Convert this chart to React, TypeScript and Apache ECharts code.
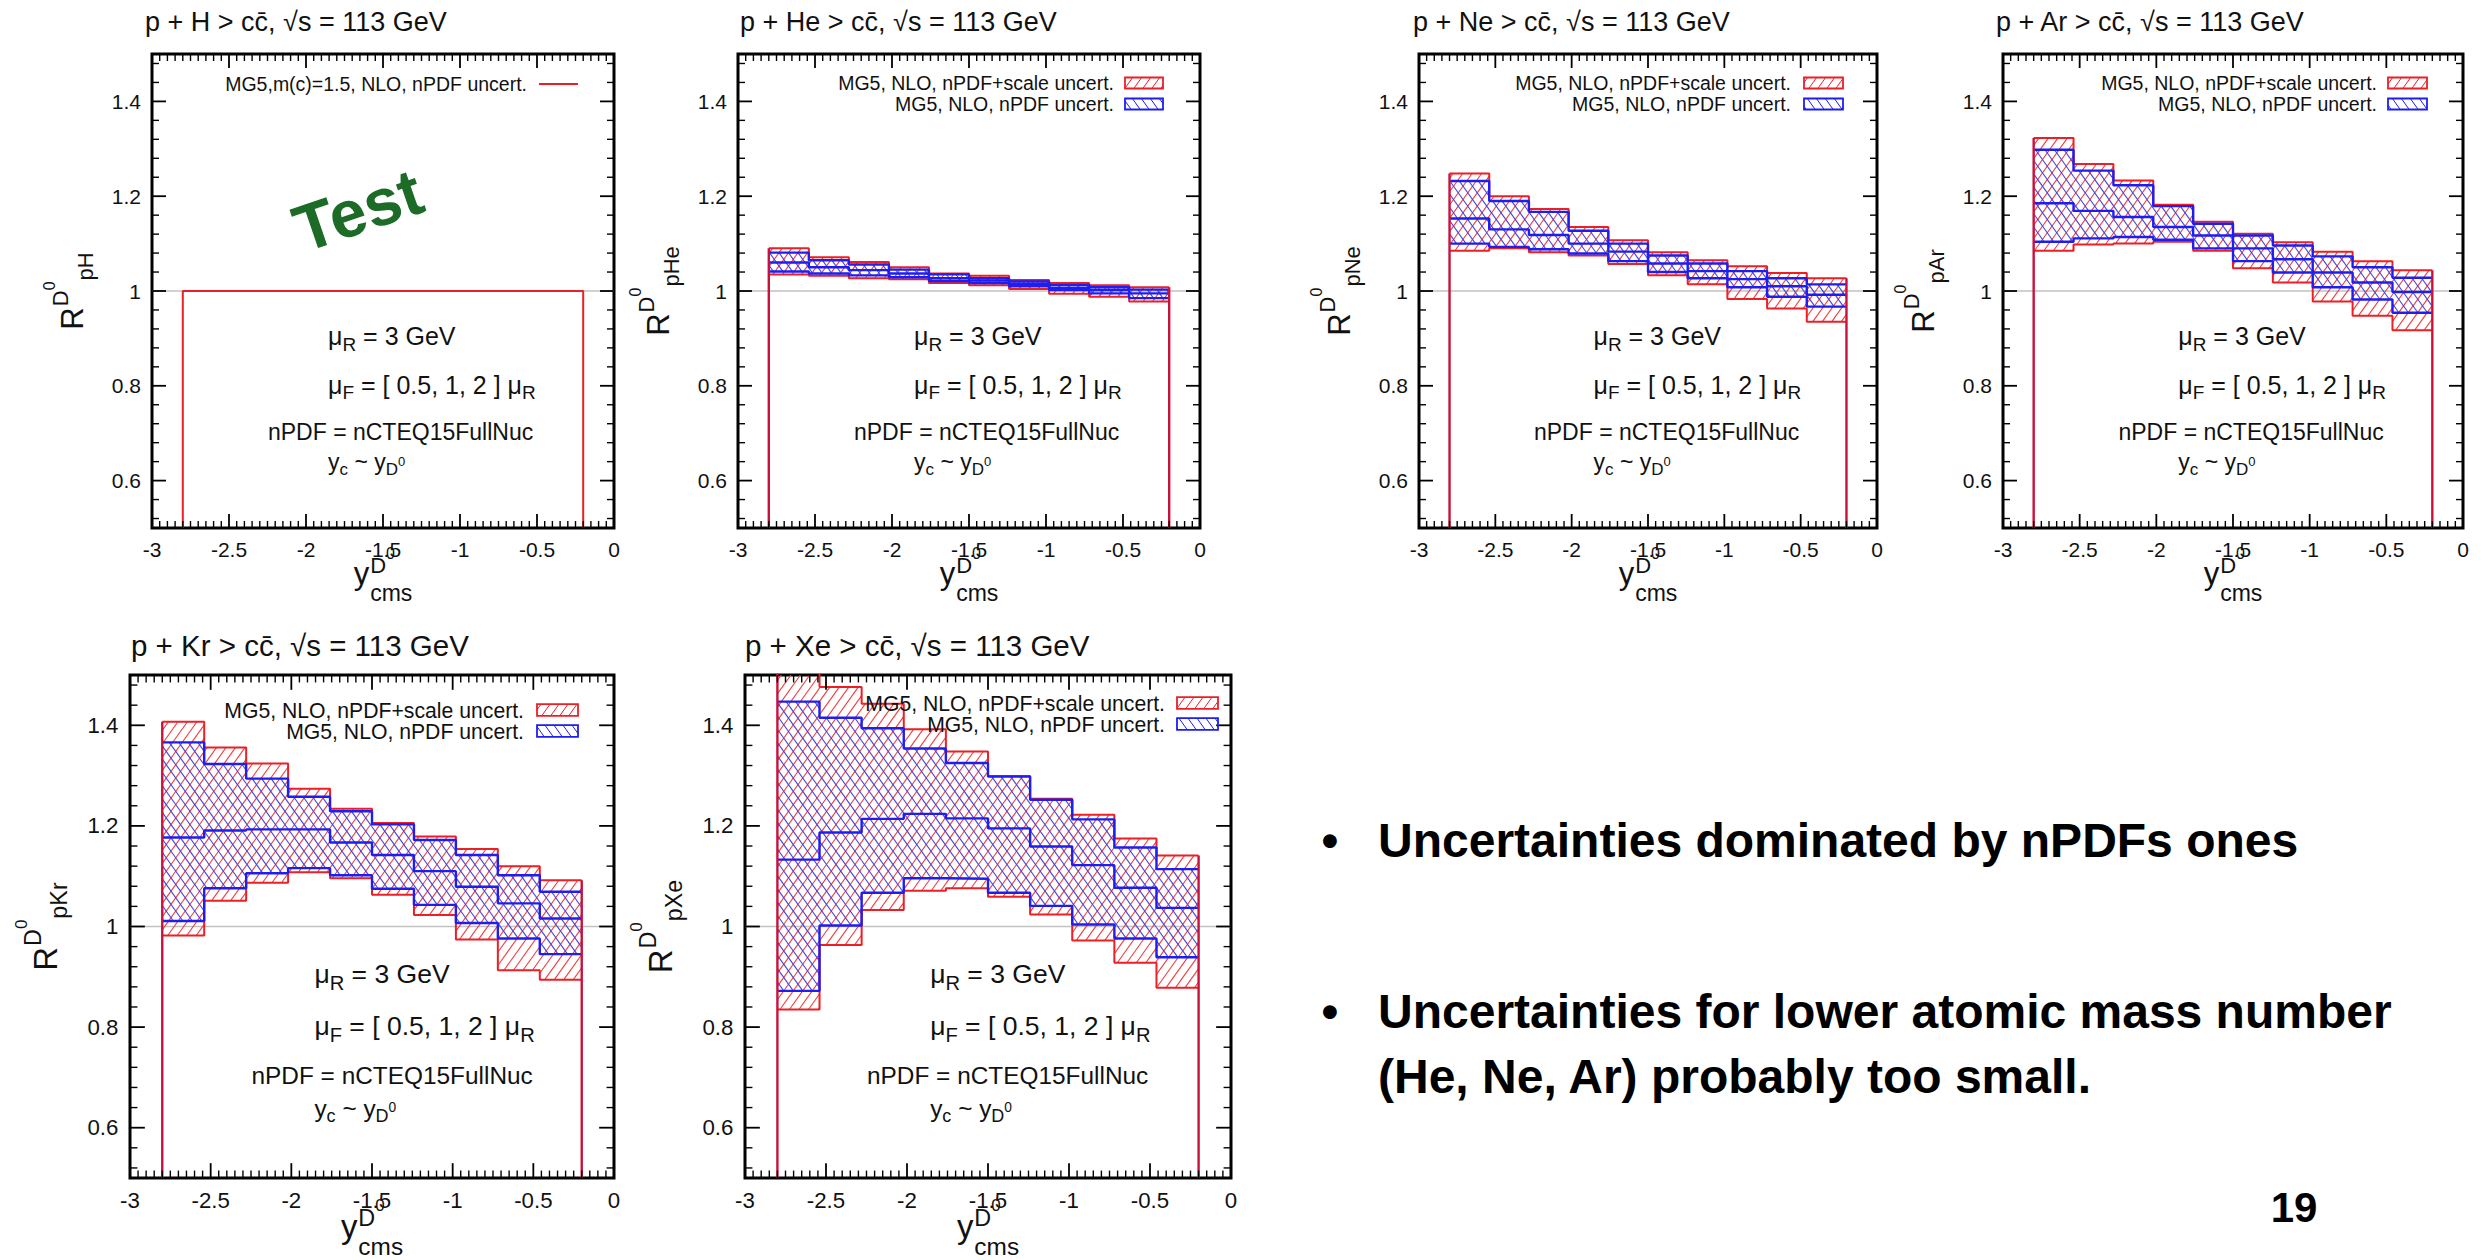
import React, { useEffect, useRef } from "react";
import * as echarts from "echarts";

const W = 2486;
const H = 1260;
const FONT = '"Liberation Sans", Arial, Helvetica, sans-serif';

// ---------------- data ----------------
const BIN_EDGES = [-2.8, -2.54, -2.28, -2.02, -1.76, -1.5, -1.24, -0.98, -0.72, -0.46, -0.2];
const X_MIN = -3;
const X_MAX = 0;
const X_TICK_STEP = 0.5;
const X_MINOR_SPLIT = 10;
const Y_MIN = 0.5;
const Y_MAX = 1.5;
const Y_MAJOR_TICKS = [0.6, 0.8, 1, 1.2, 1.4];
const Y_MINOR_TICKS = [0.52, 0.56, 0.64, 0.68, 0.72, 0.76, 0.84, 0.88, 0.92, 0.96, 1.04, 1.08, 1.12, 1.16, 1.24, 1.28, 1.32, 1.36, 1.44, 1.48];
const REF_LINE = 1;

const H_NPDF = [1, 1, 1, 1, 1, 1, 1, 1, 1, 1];

const HE_SCALE_UP = [1.09, 1.071, 1.061, 1.05, 1.037, 1.032, 1.023, 1.017, 1.012, 1.008];
const HE_SCALE_DOWN = [1.035, 1.032, 1.027, 1.025, 1.017, 1.012, 1.004, 0.994, 0.988, 0.978];
const HE_NPDF_UP = [1.081, 1.065, 1.056, 1.045, 1.035, 1.027, 1.02, 1.013, 1.008, 1.003];
const HE_NPDF_CENTRAL = [1.06, 1.05, 1.044, 1.037, 1.027, 1.022, 1.015, 1.007, 1.002, 0.995];
const HE_NPDF_DOWN = [1.041, 1.037, 1.033, 1.029, 1.021, 1.017, 1.01, 1.002, 0.995, 0.985];

const NE_SCALE_UP = [1.248, 1.2, 1.173, 1.135, 1.107, 1.082, 1.065, 1.052, 1.038, 1.027];
const NE_SCALE_DOWN = [1.085, 1.09, 1.082, 1.075, 1.057, 1.033, 1.014, 0.983, 0.963, 0.935];
const NE_NPDF_UP = [1.232, 1.19, 1.167, 1.127, 1.1, 1.075, 1.058, 1.042, 1.027, 1.014];
const NE_NPDF_CENTRAL = [1.153, 1.13, 1.118, 1.1, 1.083, 1.058, 1.042, 1.025, 1.01, 0.992];
const NE_NPDF_DOWN = [1.1, 1.093, 1.088, 1.079, 1.063, 1.04, 1.027, 1.008, 0.988, 0.967];

const AR_SCALE_UP = [1.323, 1.268, 1.233, 1.182, 1.146, 1.121, 1.103, 1.083, 1.063, 1.044];
const AR_SCALE_DOWN = [1.085, 1.098, 1.1, 1.104, 1.085, 1.048, 1.018, 0.978, 0.948, 0.917];
const AR_NPDF_UP = [1.298, 1.254, 1.223, 1.179, 1.142, 1.117, 1.096, 1.073, 1.05, 1.028];
const AR_NPDF_CENTRAL = [1.185, 1.169, 1.156, 1.135, 1.117, 1.09, 1.067, 1.039, 1.018, 0.998];
const AR_NPDF_DOWN = [1.104, 1.111, 1.114, 1.108, 1.09, 1.063, 1.039, 1.008, 0.982, 0.954];

const KR_SCALE_UP = [1.407, 1.356, 1.324, 1.274, 1.234, 1.206, 1.179, 1.154, 1.12, 1.092];
const KR_SCALE_DOWN = [0.982, 1.051, 1.087, 1.108, 1.096, 1.063, 1.023, 0.974, 0.913, 0.894];
const KR_NPDF_UP = [1.366, 1.323, 1.294, 1.258, 1.229, 1.203, 1.172, 1.142, 1.102, 1.069];
const KR_NPDF_CENTRAL = [1.177, 1.191, 1.193, 1.193, 1.167, 1.142, 1.11, 1.079, 1.046, 1.016];
const KR_NPDF_DOWN = [1.011, 1.076, 1.106, 1.116, 1.102, 1.075, 1.043, 1.007, 0.976, 0.945];

const XE_SCALE_UP = [1.53, 1.476, 1.443, 1.392, 1.348, 1.299, 1.254, 1.222, 1.175, 1.141];
const XE_SCALE_DOWN = [0.835, 0.963, 1.033, 1.071, 1.076, 1.059, 1.024, 0.972, 0.928, 0.878];
const XE_NPDF_UP = [1.447, 1.415, 1.394, 1.354, 1.325, 1.298, 1.252, 1.213, 1.157, 1.114];
const XE_NPDF_CENTRAL = [1.133, 1.187, 1.214, 1.224, 1.215, 1.195, 1.159, 1.122, 1.077, 1.037];
const XE_NPDF_DOWN = [0.872, 1.002, 1.067, 1.096, 1.095, 1.067, 1.041, 1.004, 0.976, 0.939];

const NUCLEI = ["H", "He", "Ne", "Ar", "Kr", "Xe"];
const BANDS: any = {
  He: { up: HE_SCALE_UP, down: HE_SCALE_DOWN, nUp: HE_NPDF_UP, nCen: HE_NPDF_CENTRAL, nDown: HE_NPDF_DOWN },
  Ne: { up: NE_SCALE_UP, down: NE_SCALE_DOWN, nUp: NE_NPDF_UP, nCen: NE_NPDF_CENTRAL, nDown: NE_NPDF_DOWN },
  Ar: { up: AR_SCALE_UP, down: AR_SCALE_DOWN, nUp: AR_NPDF_UP, nCen: AR_NPDF_CENTRAL, nDown: AR_NPDF_DOWN },
  Kr: { up: KR_SCALE_UP, down: KR_SCALE_DOWN, nUp: KR_NPDF_UP, nCen: KR_NPDF_CENTRAL, nDown: KR_NPDF_DOWN },
  Xe: { up: XE_SCALE_UP, down: XE_SCALE_DOWN, nUp: XE_NPDF_UP, nCen: XE_NPDF_CENTRAL, nDown: XE_NPDF_DOWN },
};

const LEGEND_SCALE = "MG5, NLO, nPDF+scale uncert.";
const LEGEND_NPDF = "MG5, NLO, nPDF uncert.";
const LEGEND_H = "MG5,m(c)=1.5, NLO, nPDF uncert.";
const BULLET_1 = "Uncertainties dominated by nPDFs ones";
const BULLET_2A = "Uncertainties for lower atomic mass number";
const BULLET_2B = "(He, Ne, Ar) probably too small.";
const PAGE_NO = "19";

// ---------------- layout ----------------
const LAYOUT = [
  { left: 152, top: 54, width: 462, height: 474, s: 1, titleX: 145, titleY: 22, titleF: 27, legF: 19.5, leg: { tr: 87, bl: 75, br: 36, y1: 30, y2: 51 } },
  { left: 738, top: 54, width: 462, height: 474, s: 1, titleX: 740, titleY: 22, titleF: 27, legF: 19.5, leg: { tr: 86, bl: 75, br: 37, y1: 29, y2: 50 } },
  { left: 1419, top: 54, width: 458, height: 474, s: 1, titleX: 1413, titleY: 22, titleF: 27, legF: 19.5, leg: { tr: 86, bl: 73, br: 34, y1: 29, y2: 50 } },
  { left: 2003, top: 54, width: 460, height: 474, s: 1, titleX: 1996, titleY: 22, titleF: 27, legF: 19.5, leg: { tr: 86, bl: 75, br: 36, y1: 29, y2: 50 } },
  { left: 130, top: 675, width: 484, height: 503, s: 1.061, titleX: 131, titleY: 645, titleF: 29.5, legF: 21.2, leg: { tr: 90, bl: 77, br: 36, y1: 35, y2: 56 } },
  { left: 745, top: 675, width: 486, height: 503, s: 1.061, titleX: 745, titleY: 645, titleF: 29.5, legF: 21.2, leg: { tr: 66, bl: 54, br: 13, y1: 28, y2: 49 } },
];

const RED = "#ec1f26";
const RED_HATCH = "#ef3e3e";
const EDGE = "#c8123c";
const BLUE = "#1e1ef0";
const BLUE_HATCH = "#4343e2";
const HATCH_P = 9.5;
const HATCH_K = 1.4;

// ---------------- helpers ----------------
let measureCtx: any = null;
function tw(text: string, size: number, weight = "normal") {
  if (!measureCtx) measureCtx = document.createElement("canvas").getContext("2d");
  measureCtx.font = `${weight} ${size}px "Liberation Sans", Arial, sans-serif`;
  return measureCtx.measureText(text).width;
}

type Seg = { t: string; f: number; b: number; stack?: number; gap?: number };

function richGroup(segs: Seg[], x: number, y: number, anchor: string, opts: any = {}) {
  const starts: number[] = [];
  let cursor = 0;
  let maxX = 0;
  const items = segs.map((s) => {
    const sx = s.stack !== undefined ? starts[s.stack] : cursor + (s.gap || 0);
    starts.push(sx);
    const w = tw(s.t, s.f, opts.weight || "normal");
    cursor = sx + w;
    maxX = Math.max(maxX, cursor);
    return { sx, s };
  });
  const shift = anchor === "left" ? 0 : anchor === "center" ? -maxX / 2 : -maxX;
  return {
    type: "group",
    x,
    y,
    rotation: opts.rotation || 0,
    silent: true,
    z: 100,
    children: items.map(({ sx, s }) => ({
      type: "text",
      x: sx + shift,
      y: s.b - 0.347 * s.f,
      silent: true,
      z: 100,
      style: {
        text: s.t,
        fontSize: s.f,
        fontFamily: FONT,
        fontWeight: opts.weight || "normal",
        fill: opts.color || "#111",
        align: "left",
        verticalAlign: "middle",
      },
    })),
  };
}

function hatchSegments(left: number, top: number, right: number, bottom: number, dir: number, P: number, k: number) {
  const segs: number[][] = [];
  if (right - left < 0.5 || bottom - top < 0.5) return segs;
  if (dir === 1) {
    const cMin = left + top / k;
    const cMax = right + bottom / k;
    for (let n = Math.ceil(cMin / P); n * P <= cMax; n++) {
      const c = n * P;
      const ya = Math.max(top, k * (c - right));
      const yb = Math.min(bottom, k * (c - left));
      if (yb - ya > 0.3) segs.push([c - ya / k, ya, c - yb / k, yb]);
    }
  } else {
    const cMin = left - bottom / k;
    const cMax = right - top / k;
    for (let n = Math.ceil(cMin / P); n * P <= cMax; n++) {
      const c = n * P;
      const ya = Math.max(top, k * (left - c));
      const yb = Math.min(bottom, k * (right - c));
      if (yb - ya > 0.3) segs.push([c + ya / k, ya, c + yb / k, yb]);
    }
  }
  return segs;
}

function hatchRenderer(dir: number, color: string) {
  return (params: any, api: any) => {
    const x0 = api.value(0);
    const x1 = api.value(1);
    const lo = api.value(2);
    const hi = api.value(3);
    const a = api.coord([x0, hi]);
    const b = api.coord([x1, lo]);
    const cs = params.coordSys;
    const left = Math.max(Math.min(a[0], b[0]), cs.x);
    const right = Math.min(Math.max(a[0], b[0]), cs.x + cs.width);
    const top = Math.max(Math.min(a[1], b[1]), cs.y);
    const bottom = Math.min(Math.max(a[1], b[1]), cs.y + cs.height);
    const segs = hatchSegments(left, top, right, bottom, dir, HATCH_P, HATCH_K);
    return {
      type: "group",
      silent: true,
      children: segs.map((s) => ({
        type: "line",
        silent: true,
        shape: { x1: s[0], y1: s[1], x2: s[2], y2: s[3] },
        style: { stroke: color, lineWidth: 1.1 },
      })),
    };
  };
}

// tick marks (gnuplot style: inside, mirrored on all four sides)
function tickRenderer(params: any, api: any) {
  const axis = api.value(0);
  const v = api.value(1);
  const len = api.value(2);
  const w = api.value(3);
  const cs = params.coordSys;
  const st = { stroke: "#000", lineWidth: w };
  if (axis === 0) {
    const p = api.coord([v, Y_MIN]);
    const x = p[0];
    return {
      type: "group",
      silent: true,
      children: [
        { type: "line", silent: true, shape: { x1: x, y1: cs.y + cs.height, x2: x, y2: cs.y + cs.height - len }, style: st },
        { type: "line", silent: true, shape: { x1: x, y1: cs.y, x2: x, y2: cs.y + len }, style: st },
      ],
    };
  }
  const p = api.coord([X_MIN, v]);
  const y = p[1];
  return {
    type: "group",
    silent: true,
    children: [
      { type: "line", silent: true, shape: { x1: cs.x, y1: y, x2: cs.x + len, y2: y }, style: st },
      { type: "line", silent: true, shape: { x1: cs.x + cs.width, y1: y, x2: cs.x + cs.width - len, y2: y }, style: st },
    ],
  };
}

function tickData(s: number) {
  const out: number[][] = [];
  const nMaj = Math.round((X_MAX - X_MIN) / X_TICK_STEP);
  for (let i = 0; i <= nMaj; i++) {
    const v = X_MIN + i * X_TICK_STEP;
    if (i > 0 && i < nMaj) out.push([0, v, 14 * s, 1.8]);
    if (i < nMaj) {
      for (let j = 1; j < X_MINOR_SPLIT; j++) out.push([0, v + (j * X_TICK_STEP) / X_MINOR_SPLIT, 7 * s, 1.4]);
    }
  }
  Y_MAJOR_TICKS.forEach((v) => out.push([1, v, 14 * s, 1.8]));
  Y_MINOR_TICKS.forEach((v) => out.push([1, v, 7 * s, 1.4]));
  return out;
}

function stepPoints(vals: number[], drop: boolean) {
  const pts: number[][] = [];
  if (drop) pts.push([BIN_EDGES[0], Y_MIN]);
  vals.forEach((v, i) => {
    pts.push([BIN_EDGES[i], v]);
    pts.push([BIN_EDGES[i + 1], v]);
  });
  if (drop) pts.push([BIN_EDGES[BIN_EDGES.length - 1], Y_MIN]);
  return pts;
}

function bandData(lo: number[], hi: number[]) {
  return lo.map((l, i) => [BIN_EDGES[i], BIN_EDGES[i + 1], l, hi[i]]);
}

function legendBox(x0: number, yc: number, w: number, h: number, color: string, dir: number) {
  const top = yc - h / 2;
  const bottom = yc + h / 2;
  const segs = hatchSegments(x0, top, x0 + w, bottom, dir, 9, 1.4);
  return [
    ...segs.map((s) => ({
      type: "line",
      silent: true,
      z: 100,
      shape: { x1: s[0], y1: s[1], x2: s[2], y2: s[3] },
      style: { stroke: color, lineWidth: 1 },
    })),
    {
      type: "rect",
      silent: true,
      z: 100,
      shape: { x: x0, y: top, width: w, height: h },
      style: { fill: "none", stroke: color, lineWidth: 1.8 },
    },
  ];
}

function plainText(text: string, x: number, y: number, f: number, align: string, opts: any = {}) {
  return {
    type: "text",
    x,
    y,
    silent: true,
    z: 100,
    rotation: opts.rotation || 0,
    style: {
      text,
      fontSize: f,
      fontFamily: FONT,
      fontWeight: opts.weight || "normal",
      fill: opts.color || "#111",
      align,
      verticalAlign: "middle",
    },
  };
}

// ---------------- option ----------------
function buildOption() {
  const grid: any[] = [];
  const xAxis: any[] = [];
  const yAxis: any[] = [];
  const series: any[] = [];
  const graphics: any[] = [];

  NUCLEI.forEach((nuc, i) => {
    const L = LAYOUT[i];
    const s = L.s;
    const right = L.left + L.width;
    const bottom = L.top + L.height;
    const cx = L.left + L.width / 2;
    const cy = L.top + L.height / 2;
    const tickF = 21 * s;

    grid.push({
      left: L.left,
      top: L.top,
      width: L.width,
      height: L.height,
      show: true,
      borderColor: "#000",
      borderWidth: 3,
      backgroundColor: "transparent",
      containLabel: false,
      outerBoundsMode: "none",
    });

    xAxis.push({
      gridIndex: i,
      type: "value",
      min: X_MIN,
      max: X_MAX,
      interval: X_TICK_STEP,
      position: "bottom",
      silent: true,
      axisLine: { show: false, onZero: false },
      axisTick: { show: false },
      minorTick: { show: false },
      splitLine: { show: false },
      axisLabel: { show: true, margin: 11 * s, fontSize: tickF, fontFamily: FONT, color: "#111" },
    });
    yAxis.push({
      gridIndex: i,
      type: "value",
      min: Y_MIN,
      max: Y_MAX,
      position: "left",
      silent: true,
      axisLine: { show: false, onZero: false },
      axisTick: { show: false },
      minorTick: { show: false },
      splitLine: { show: false },
      axisLabel: { show: true, customValues: Y_MAJOR_TICKS, margin: 11 * s, fontSize: tickF, fontFamily: FONT, color: "#111" },
    });

    const xi = i;
    const yi = i;
    const lineSeries = (data: number[][], color: string, width: number, z: number) => ({
      type: "line",
      xAxisIndex: xi,
      yAxisIndex: yi,
      data,
      symbol: "none",
      showSymbol: false,
      clip: true,
      silent: true,
      z,
      lineStyle: { color, width },
      emphasis: { disabled: true },
    });

    series.push(lineSeries([[X_MIN, REF_LINE], [X_MAX, REF_LINE]], "#c2c2c2", 1.5, 1));

    series.push({
      type: "custom",
      xAxisIndex: xi,
      yAxisIndex: yi,
      renderItem: tickRenderer,
      data: tickData(s),
      encode: { x: 1, y: 2 },
      silent: true,
      clip: false,
      z: 8,
    });

    const band = BANDS[nuc];
    if (band) {
      series.push({
        type: "custom",
        xAxisIndex: xi,
        yAxisIndex: yi,
        renderItem: hatchRenderer(1, RED_HATCH),
        data: bandData(band.down, band.up),
        encode: { x: [0, 1], y: [2, 3] },
        silent: true,
        z: 2,
      });
      series.push({
        type: "custom",
        xAxisIndex: xi,
        yAxisIndex: yi,
        renderItem: hatchRenderer(-1, BLUE_HATCH),
        data: bandData(band.nDown, band.nUp),
        encode: { x: [0, 1], y: [2, 3] },
        silent: true,
        z: 3,
      });
      series.push(lineSeries(stepPoints(band.up, false), RED, 2, 4));
      series.push(lineSeries(stepPoints(band.down, false), RED, 2, 4));
      series.push(lineSeries(stepPoints(band.nUp, false), BLUE, 2.4, 5));
      series.push(lineSeries(stepPoints(band.nCen, false), BLUE, 2.4, 5));
      series.push(lineSeries(stepPoints(band.nDown, false), BLUE, 2.4, 5));
      const last = BIN_EDGES.length - 1;
      series.push(lineSeries([[BIN_EDGES[0], Y_MIN], [BIN_EDGES[0], band.up[0]]], EDGE, 2.4, 6));
      series.push(lineSeries([[BIN_EDGES[last], band.up[band.up.length - 1]], [BIN_EDGES[last], Y_MIN]], EDGE, 2.4, 6));
    } else {
      series.push(lineSeries(stepPoints(H_NPDF, true), RED, 2, 4));
    }

    // title
    graphics.push(plainText(`p + ${nuc} > cc\u0304, \u221As = 113 GeV`, L.titleX, L.titleY, L.titleF, "left"));

    // legend
    const lg = L.leg;
    const legF = L.legF;
    if (band) {
      graphics.push(plainText(LEGEND_SCALE, right - lg.tr, L.top + lg.y1, legF, "right"));
      graphics.push(plainText(LEGEND_NPDF, right - lg.tr, L.top + lg.y2, legF, "right"));
      graphics.push(...legendBox(right - lg.bl, L.top + lg.y1, lg.bl - lg.br, 11 * s, RED, 1));
      graphics.push(...legendBox(right - lg.bl, L.top + lg.y2, lg.bl - lg.br, 11 * s, BLUE, -1));
    } else {
      graphics.push(plainText(LEGEND_H, right - lg.tr, L.top + lg.y1, legF, "right"));
      graphics.push({
        type: "line",
        silent: true,
        z: 100,
        shape: { x1: right - lg.bl, y1: L.top + lg.y1, x2: right - lg.br, y2: L.top + lg.y1 },
        style: { stroke: RED, lineWidth: 2 },
      });
    }

    // annotations
    const aF = 25 * s;
    const aS = 19 * s;
    const bF = 23 * s;
    const bS = 17 * s;
    const ax = L.left + 0.381 * L.width;
    const nx = L.left + 0.251 * L.width;
    graphics.push(
      richGroup(
        [
          { t: "\u03BC", f: aF, b: 0 },
          { t: "R", f: aS, b: 6 * s },
          { t: " = 3 GeV", f: aF, b: 0 },
        ],
        ax,
        L.top + 0.595 * L.height + 0.347 * aF,
        "left"
      )
    );
    graphics.push(
      richGroup(
        [
          { t: "\u03BC", f: aF, b: 0 },
          { t: "F", f: aS, b: 6 * s },
          { t: " = [ 0.5, 1, 2 ] ", f: aF, b: 0 },
          { t: "\u03BC", f: aF, b: 0 },
          { t: "R", f: aS, b: 6 * s },
        ],
        ax,
        L.top + 0.698 * L.height + 0.347 * aF,
        "left"
      )
    );
    graphics.push(
      richGroup([{ t: "nPDF = nCTEQ15FullNuc", f: bF, b: 0 }], nx, L.top + 0.797 * L.height + 0.347 * bF, "left")
    );
    graphics.push(
      richGroup(
        [
          { t: "y", f: bF, b: 0 },
          { t: "c", f: bS, b: 5 * s },
          { t: " ~ ", f: bF, b: 0 },
          { t: "y", f: bF, b: 0 },
          { t: "D", f: bS, b: 5 * s },
          { t: "0", f: 13 * s, b: -4 * s },
        ],
        ax,
        L.top + 0.861 * L.height + 0.347 * bF,
        "left"
      )
    );

    // x-axis name  y^{D^0}_{cms}
    graphics.push(
      richGroup(
        [
          { t: "y", f: 31 * s, b: 0 },
          { t: "D", f: 22 * s, b: -11 * s, gap: 1 },
          { t: "0", f: 16 * s, b: -25 * s },
          { t: "cms", f: 23 * s, b: 17 * s, stack: 1 },
        ],
        cx,
        bottom + 56 * s,
        "center"
      )
    );
    // y-axis name  R^{D^0}_{pX}
    graphics.push(
      richGroup(
        [
          { t: "R", f: 31 * s, b: 0 },
          { t: "D", f: 22 * s, b: -15 * s, gap: 1 },
          { t: "0", f: 16 * s, b: -28 * s },
          { t: `p${nuc}`, f: 22 * s, b: 10 * s, gap: 1 },
        ],
        L.left - 69 * s,
        cy,
        "center",
        { rotation: Math.PI / 2 }
      )
    );
  });

  // watermark
  graphics.push(plainText("Test", 358, 210, 66, "center", { weight: "bold", color: "#1c6b27", rotation: 0.33 }));

  // slide text
  graphics.push(plainText("\u2022", 1330, 840, 48, "center", { weight: "bold", color: "#000" }));
  graphics.push(plainText(BULLET_1, 1378, 840, 48, "left", { weight: "bold", color: "#000" }));
  graphics.push(plainText("\u2022", 1330, 1011, 48, "center", { weight: "bold", color: "#000" }));
  graphics.push(plainText(BULLET_2A, 1378, 1011, 48, "left", { weight: "bold", color: "#000" }));
  graphics.push(plainText(BULLET_2B, 1378, 1076, 48, "left", { weight: "bold", color: "#000" }));
  graphics.push(plainText(PAGE_NO, 2294, 1207, 42, "center", { weight: "bold", color: "#000" }));

  return {
    animation: false,
    backgroundColor: "#ffffff",
    textStyle: { fontFamily: FONT },
    grid,
    xAxis,
    yAxis,
    series,
    graphic: { elements: graphics },
  };
}

export default function App() {
  const ref = useRef<HTMLDivElement>(null);
  useEffect(() => {
    const el = ref.current;
    if (!el) return;
    const chart = echarts.init(el, null, { renderer: "svg", width: W, height: H });
    chart.setOption(buildOption() as any);
    return () => {
      chart.dispose();
    };
  }, []);
  return (
    <div
      ref={ref}
      style={{ position: "fixed", left: 0, top: 0, width: W, height: H, background: "#fff" }}
    />
  );
}
